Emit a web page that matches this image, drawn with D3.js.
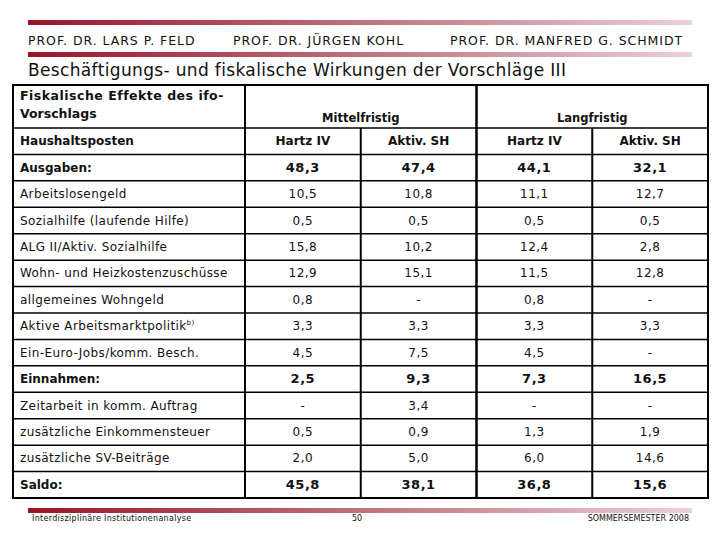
<!DOCTYPE html>
<html>
<head>
<meta charset="utf-8">
<script src="https://cdn.jsdelivr.net/npm/d3@7"></script>
<style>
body { margin: 0; background: #fff; }
text { font-family: "DejaVu Sans", Verdana, sans-serif; fill: #111; }
</style>
</head>
<body>
<script>
var width = 720
var height = 540

var professors = ['PROF. DR. LARS P. FELD', 'PROF. DR. JÜRGEN KOHL', 'PROF. DR. MANFRED G. SCHMIDT']
var title = 'Beschäftigungs- und fiskalische Wirkungen der Vorschläge III'

var groups = ['Mittelfristig', 'Langfristig']
var columns = ['Hartz IV', 'Aktiv. SH', 'Hartz IV', 'Aktiv. SH']

var categories = [
    'Ausgaben:', 'Arbeitslosengeld', 'Sozialhilfe (laufende Hilfe)', 'ALG II/Aktiv. Sozialhilfe',
    'Wohn- und Heizkostenzuschüsse', 'allgemeines Wohngeld', 'Aktive Arbeitsmarktpolitik',
    'Ein-Euro-Jobs/komm. Besch.', 'Einnahmen:', 'Zeitarbeit in komm. Auftrag',
    'zusätzliche Einkommensteuer', 'zusätzliche SV-Beiträge', 'Saldo:'
]
var boldRows = ['Ausgaben:', 'Einnahmen:', 'Saldo:']

var hartzMittel = [48.3, 10.5, 0.5, 15.8, 12.9, 0.8, 3.3, 4.5, 2.5, null, 0.5, 2.0, 45.8]
var aktivMittel = [47.4, 10.8, 0.5, 10.2, 15.1, null, 3.3, 7.5, 9.3, 3.4, 0.9, 5.0, 38.1]
var hartzLang = [44.1, 11.1, 0.5, 12.4, 11.5, 0.8, 3.3, 4.5, 7.3, null, 1.3, 6.0, 36.8]
var aktivLang = [32.1, 12.7, 0.5, 2.8, 12.8, null, 3.3, null, 16.5, null, 1.9, 14.6, 15.6]

var footer = ['Interdisziplinäre Institutionenanalyse', '50', 'SOMMERSEMESTER 2008']

var series = [hartzMittel, aktivMittel, hartzLang, aktivLang]

var locale = d3.formatLocale({ decimal: ',', thousands: '.', grouping: [3], currency: ['', ' €'] })
var fmt = locale.format('.1f')
var cellText = function (v) { return v === null ? '-' : fmt(v) }

var table = { left: 13, right: 708, top: 85, headBottom: 128, bottom: 498, labelRight: 245 }

var svg = d3.select('body').append('svg')
    .attr('width', width)
    .attr('height', height)

var grad = svg.append('defs').append('linearGradient')
    .attr('id', 'bar')
grad.append('stop').attr('offset', '0%').attr('stop-color', '#981526')
grad.append('stop').attr('offset', '55%').attr('stop-color', '#c47a84')
grad.append('stop').attr('offset', '100%').attr('stop-color', '#ead0d4')

// header bars
;[20, 52, 508].forEach(function (y) {
    svg.append('rect')
        .attr('x', 28).attr('y', y)
        .attr('width', 664).attr('height', 5)
        .attr('fill', 'url(#bar)')
})

var profX = [28, 233, 450]
svg.selectAll('.prof')
    .data(professors)
    .enter().append('text')
    .attr('class', 'prof')
    .attr('x', function (d, i) { return profX[i] })
    .attr('y', 45)
    .style('font-size', '12.5px')
    .style('letter-spacing', '0.95px')
    .text(function (d) { return d })

svg.append('text')
    .attr('x', 28).attr('y', 76)
    .style('font-size', '17px')
    .style('letter-spacing', '0.35px')
    .text(title)

var x = d3.scaleBand()
    .domain(d3.range(columns.length))
    .range([table.labelRight, table.right])

var rowKeys = ['Haushaltsposten'].concat(categories)
var y = d3.scaleBand()
    .domain(rowKeys)
    .range([table.headBottom, table.bottom])

var g = svg.append('g')

// group header
g.append('text')
    .attr('x', 20).attr('y', 100)
    .style('font-size', '12.5px').style('font-weight', 'bold').style('letter-spacing', '0.5px')
    .text('Fiskalische Effekte des ifo-')
g.append('text')
    .attr('x', 20).attr('y', 118)
    .style('font-size', '12.5px').style('font-weight', 'bold')
    .text('Vorschlags')

g.selectAll('.group')
    .data(groups)
    .enter().append('text')
    .attr('class', 'group')
    .attr('x', function (d, i) { return x(i * 2) + x.bandwidth() })
    .attr('y', 122)
    .attr('text-anchor', 'middle')
    .style('font-size', '11.5px').style('font-weight', 'bold')
    .text(function (d) { return d })

// column header row
g.append('text')
    .attr('x', 20)
    .attr('y', y('Haushaltsposten') + y.bandwidth() / 2 + 4)
    .style('font-size', '12px').style('font-weight', 'bold')
    .text('Haushaltsposten')

g.selectAll('.colhead')
    .data(columns)
    .enter().append('text')
    .attr('class', 'colhead')
    .attr('x', function (d, i) { return x(i) + x.bandwidth() / 2 })
    .attr('y', y('Haushaltsposten') + y.bandwidth() / 2 + 4)
    .attr('text-anchor', 'middle')
    .style('font-size', '12px').style('font-weight', 'bold')
    .text(function (d) { return d })

// body rows
var rows = g.selectAll('.row')
    .data(categories)
    .enter().append('g')
    .attr('class', 'row')
    .attr('transform', function (d) { return 'translate(0,' + (y(d) + y.bandwidth() / 2 + 4) + ')' })

rows.append('text')
    .attr('x', 20)
    .style('font-size', '12px')
    .style('letter-spacing', function (d) { return boldRows.indexOf(d) >= 0 ? '0px' : '0.4px' })
    .style('font-weight', function (d) { return boldRows.indexOf(d) >= 0 ? 'bold' : 'normal' })
    .each(function (d) {
        var t = d3.select(this)
        t.text(d)
        if (d === 'Aktive Arbeitsmarktpolitik') {
            t.append('tspan').attr('dy', -5).style('font-size', '7px').text('b)')
        }
    })

rows.selectAll('.val')
    .data(function (d) {
        var r = categories.indexOf(d)
        return series.map(function (s) { return { v: s[r], bold: boldRows.indexOf(d) >= 0 } })
    })
    .enter().append('text')
    .attr('class', 'val')
    .attr('x', function (d, i) { return x(i) + x.bandwidth() / 2 })
    .attr('text-anchor', 'middle')
    .style('font-size', function (d) { return d.bold ? '13px' : '12px' })
    .style('font-weight', function (d) { return d.bold ? 'bold' : 'normal' })
    .style('letter-spacing', '0.5px')
    .text(function (d) { return cellText(d.v) })

// grid lines
var hLines = rowKeys.map(function (k) { return y(k) }).concat([table.bottom])
g.selectAll('.hline')
    .data(hLines)
    .enter().append('line')
    .attr('x1', table.left).attr('x2', table.right)
    .attr('y1', function (d) { return d }).attr('y2', function (d) { return d })
    .attr('stroke', '#000')
    .attr('stroke-width', 1.5)

var vLines = [
    { x: table.labelRight, y1: table.top, w: 2 },
    { x: x(1), y1: table.headBottom, w: 2 },
    { x: x(2), y1: table.top, w: 2.5 },
    { x: x(3), y1: table.headBottom, w: 2 }
]
g.selectAll('.vline')
    .data(vLines)
    .enter().append('line')
    .attr('x1', function (d) { return d.x }).attr('x2', function (d) { return d.x })
    .attr('y1', function (d) { return d.y1 }).attr('y2', table.bottom)
    .attr('stroke', '#000')
    .attr('stroke-width', function (d) { return d.w })

g.append('rect')
    .attr('x', table.left).attr('y', table.top)
    .attr('width', table.right - table.left)
    .attr('height', table.bottom - table.top)
    .attr('fill', 'none')
    .attr('stroke', '#000')
    .attr('stroke-width', 2)

// footer
svg.append('text')
    .attr('x', 32).attr('y', 521)
    .style('font-size', '8px')
    .style('letter-spacing', '0.3px')
    .text(footer[0])
svg.append('text')
    .attr('x', 357).attr('y', 521)
    .attr('text-anchor', 'middle')
    .style('font-size', '8px')
    .text(footer[1])
svg.append('text')
    .attr('x', 689).attr('y', 521)
    .attr('text-anchor', 'end')
    .style('font-size', '8px')
    .text(footer[2])
</script>
</body>
</html>
